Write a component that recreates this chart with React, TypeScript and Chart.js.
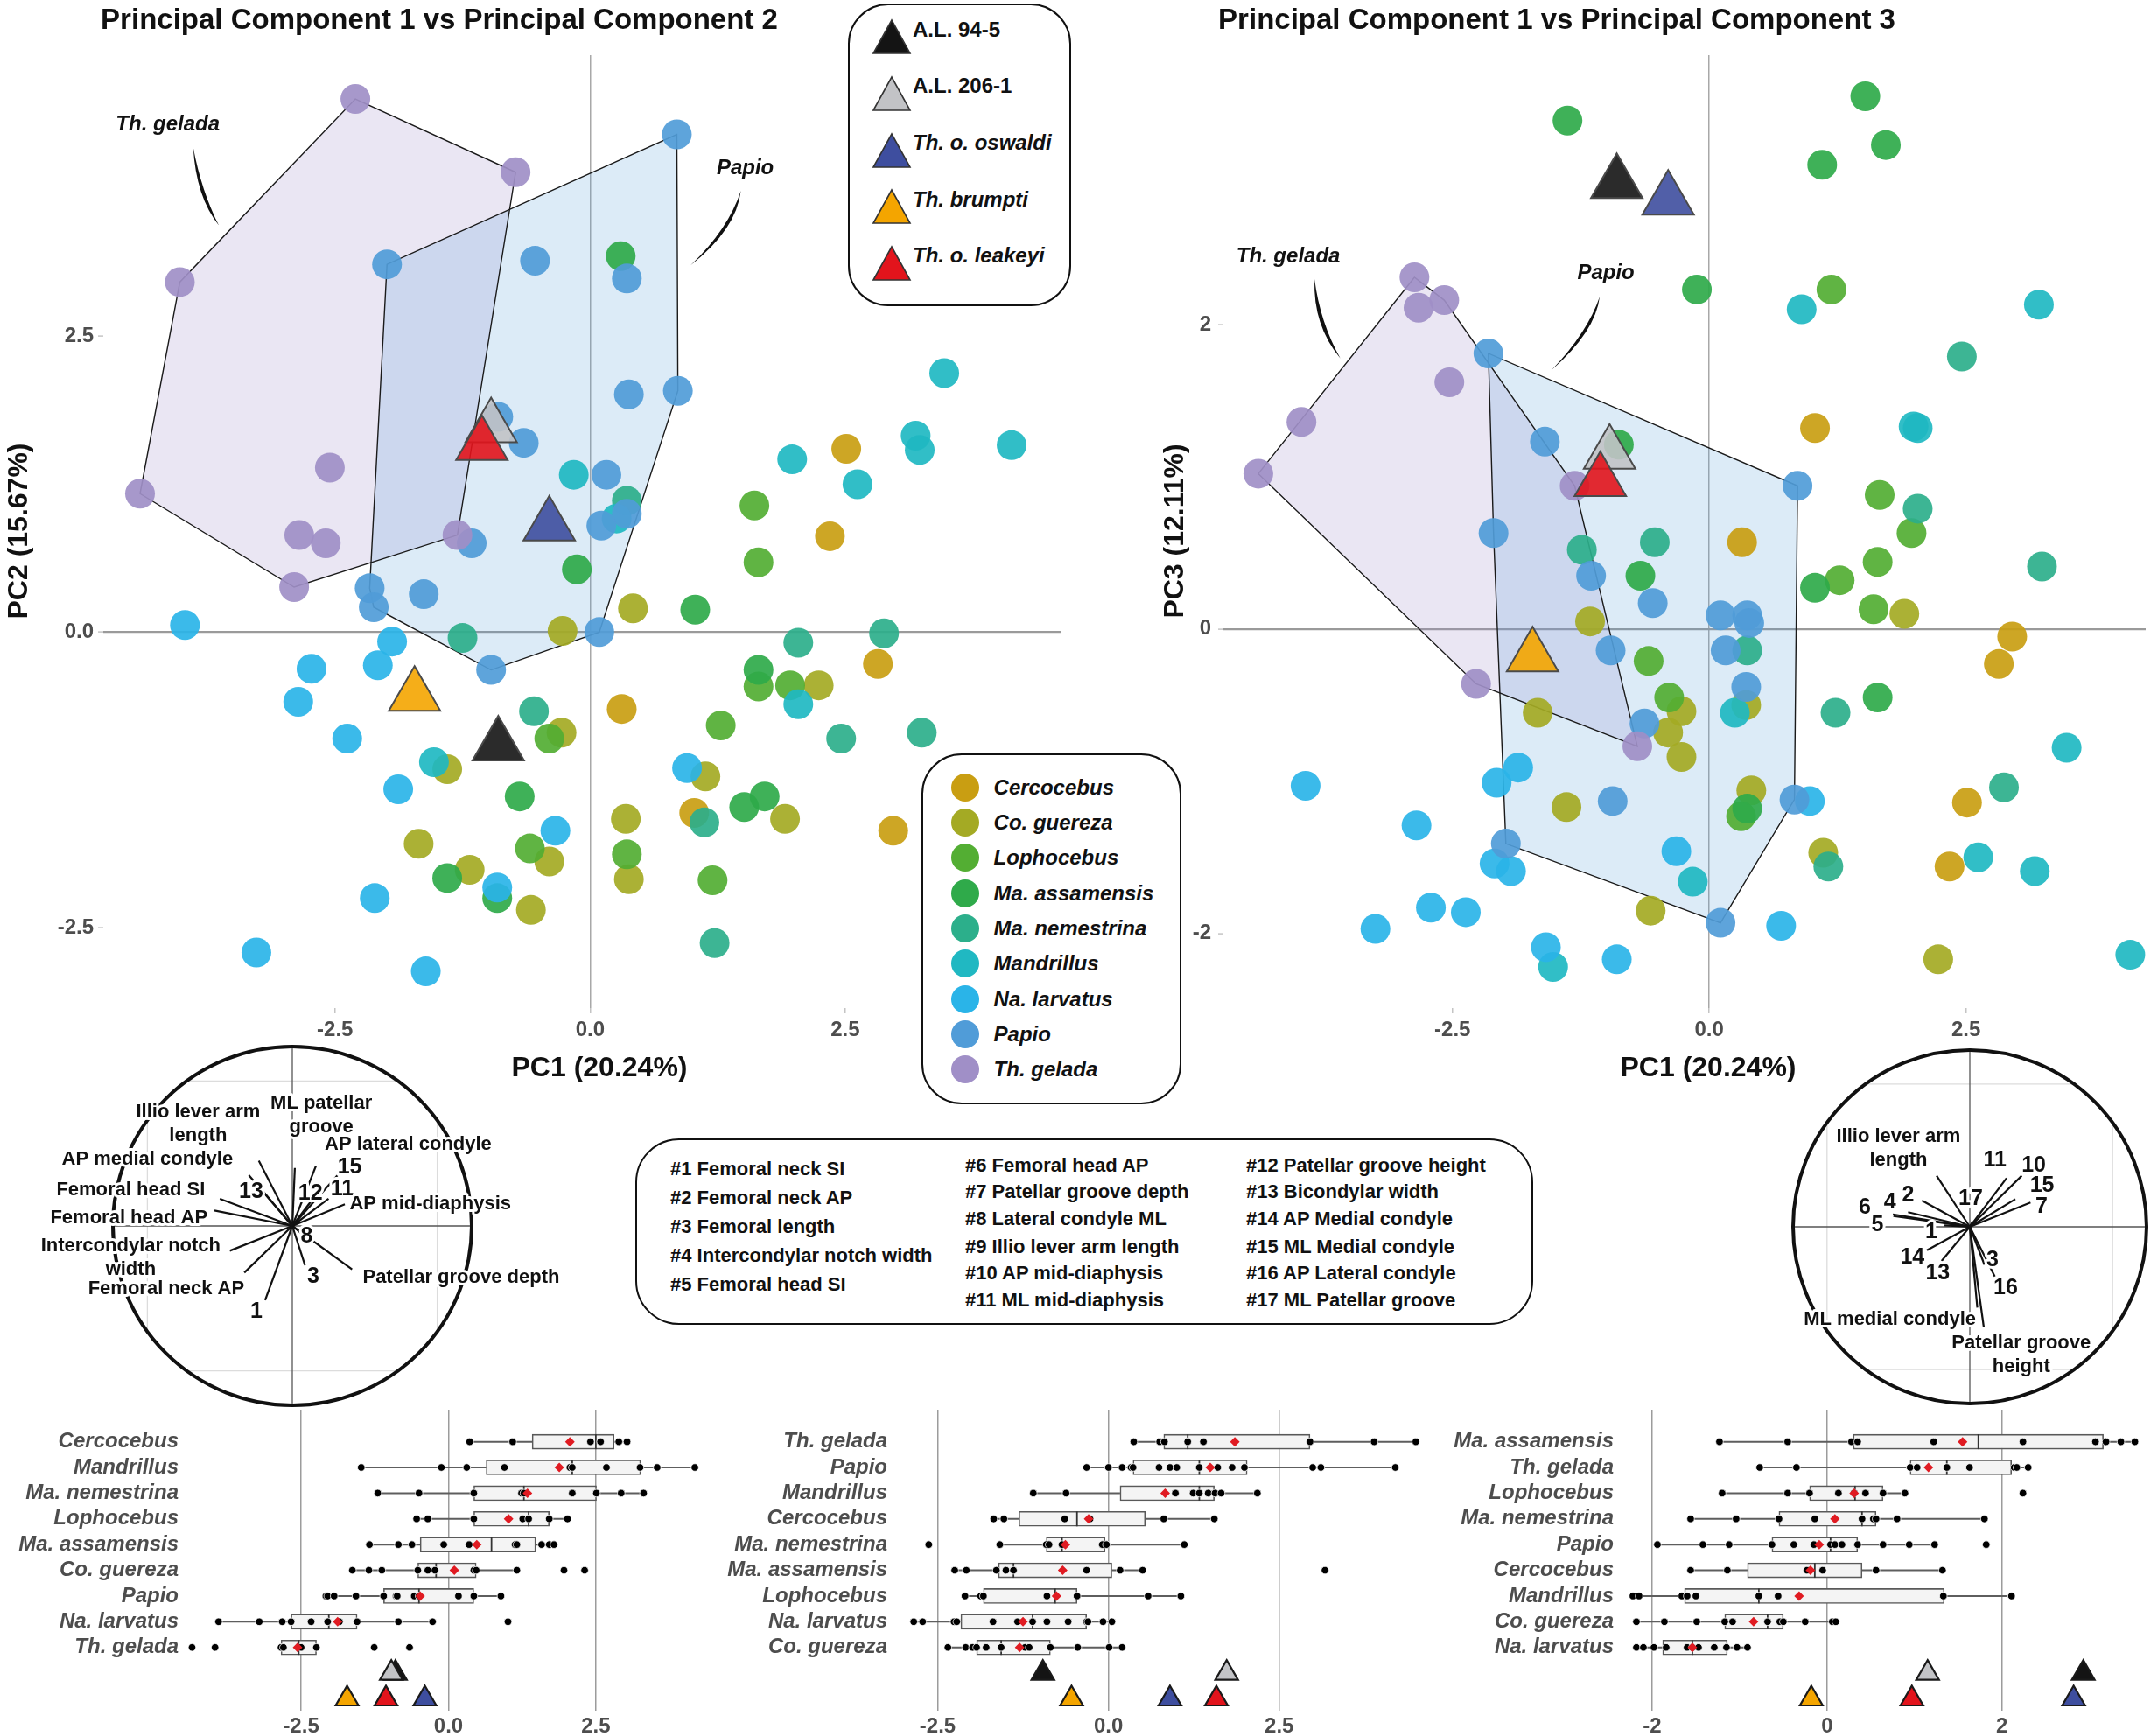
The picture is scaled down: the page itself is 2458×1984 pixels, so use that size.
import React, { useEffect, useRef } from "react";
import { Chart, registerables } from "chart.js";

Chart.register(...registerables);

const FONT = "'Liberation Sans', Arial, Helvetica, sans-serif";
type Pt = [number, number];

// ---------- categories ----------
const species = ["Cercocebus", "Co. guereza", "Lophocebus", "Ma. assamensis", "Ma. nemestrina", "Mandrillus", "Na. larvatus", "Papio", "Th. gelada"];
const speciesColors = ["#C99E12", "#A4AA24", "#53AE33", "#2FAA4A", "#2CAF8B", "#20B8C2", "#2AB4E8", "#509CD8", "#A08FC7"];

const fossils = ["A.L. 94-5", "A.L. 206-1", "Th. o. oswaldi", "Th. brumpti", "Th. o. leakeyi"];
const fossilColors = ["#141414", "#C2C3C6", "#3E4E9F", "#F4A500", "#E2141C"];
const fossilItalic = [false, false, true, true, true];
const fossilPC1 = [-0.9, -0.97, -0.4, -1.72, -1.06];
const fossilPC2 = [-0.96, 1.73, 0.9, -0.54, 1.58];
const fossilPC3 = [2.93, 1.15, 2.82, -0.18, 0.97];

// ---------- PC1 vs PC2 scores ----------
const pc12Cercocebus: Pt[] = [[2.51, 1.55], [2.35, 0.81], [0.31, -0.65], [2.82, -0.27], [1.02, -1.53], [2.97, -1.68]];
const pc12Guereza: Pt[] = [[-0.27, 0.01], [0.42, 0.2], [-0.28, -0.85], [-1.4, -1.16], [2.24, -0.45], [1.13, -1.22], [1.91, -1.58], [0.35, -1.58], [0.38, -2.09], [-1.68, -1.79], [-1.18, -2.01], [-0.4, -1.94], [-0.58, -2.35]];
const pc12Lophocebus: Pt[] = [[1.61, 1.07], [1.65, 0.59], [1.65, -0.46], [1.96, -0.45], [1.28, -0.79], [-0.4, -0.9], [-0.59, -1.83], [0.36, -1.88], [1.2, -2.1]];
const pc12Assamensis: Pt[] = [[0.3, 3.18], [-0.13, 0.53], [1.03, 0.19], [1.65, -0.32], [1.51, -1.48], [1.71, -1.39], [-1.4, -2.08], [-0.69, -1.39], [-0.91, -2.25]];
const pc12Nemestrina: Pt[] = [[0.36, 1.11], [2.04, -0.09], [2.88, -0.01], [3.25, -0.85], [2.46, -0.9], [-0.55, -0.67], [1.12, -1.61], [1.22, -2.63], [-1.25, -0.05]];
const pc12Mandrillus: Pt[] = [[3.47, 2.19], [3.19, 1.66], [3.23, 1.54], [4.13, 1.58], [1.98, 1.46], [2.62, 1.25], [-0.16, 1.33], [0.26, 0.96], [-1.53, -1.1], [2.04, -0.61]];
const pc12Larvatus: Pt[] = [[-3.97, 0.06], [-1.94, -0.08], [-2.73, -0.31], [-2.08, -0.28], [-2.86, -0.59], [-2.38, -0.9], [-1.88, -1.33], [-0.34, -1.68], [-0.91, -2.16], [-2.11, -2.25], [-3.27, -2.71], [-1.61, -2.87], [0.95, -1.15]];
const pc12Papio: Pt[] = [[0.85, 4.21], [-1.99, 3.11], [-0.54, 3.14], [0.36, 2.99], [0.38, 2.01], [0.86, 2.04], [-0.9, 1.82], [-0.65, 1.6], [0.16, 1.33], [-1.16, 0.75], [0.11, 0.9], [0.36, 1.0], [-2.16, 0.37], [-2.12, 0.21], [-1.63, 0.32], [0.09, 0.0], [-0.97, -0.32]];
const pc12Gelada: Pt[] = [[-2.3, 4.51], [-0.73, 3.89], [-4.02, 2.96], [-4.41, 1.17], [-2.55, 1.39], [-2.85, 0.82], [-2.59, 0.75], [-2.9, 0.38], [-1.3, 0.82]];

// ---------- PC1 vs PC3 scores ----------
const pc13Cercocebus: Pt[] = [[1.03, 1.32], [0.32, 0.57], [2.95, -0.05], [2.82, -0.23], [2.51, -1.14], [2.34, -1.56]];
const pc13Guereza: Pt[] = [[-1.16, 0.05], [1.9, 0.1], [-1.67, -0.55], [-0.27, -0.54], [-0.4, -0.68], [-0.27, -0.84], [0.36, -0.5], [-1.39, -1.17], [0.41, -1.06], [-0.57, -1.85], [1.11, -1.47], [2.23, -2.17]];
const pc13Lophocebus: Pt[] = [[1.19, 2.23], [1.66, 0.88], [1.97, 0.63], [1.64, 0.44], [1.27, 0.32], [1.6, 0.13], [-0.59, -0.21], [-0.39, -0.45], [0.31, -1.23]];
const pc13Assamensis: Pt[] = [[-0.12, 2.23], [-1.38, 3.34], [1.52, 3.5], [1.72, 3.18], [1.1, 3.05], [-0.88, 1.21], [1.03, 0.27], [-0.67, 0.35], [1.64, -0.45], [0.37, -1.18]];
const pc13Nemestrina: Pt[] = [[2.46, 1.79], [2.03, 0.79], [3.24, 0.41], [-0.53, 0.57], [-1.24, 0.52], [0.37, -0.14], [1.23, -0.55], [2.87, -1.04], [1.16, -1.56]];
const pc13Mandrillus: Pt[] = [[0.9, 2.1], [3.21, 2.13], [1.99, 1.33], [2.03, 1.32], [0.25, -0.55], [-0.16, -1.66], [-1.52, -2.22], [3.48, -0.78], [2.62, -1.5], [3.17, -1.59], [4.1, -2.14]];
const pc13Larvatus: Pt[] = [[-3.93, -1.03], [-1.86, -0.91], [-2.07, -1.01], [-2.85, -1.29], [-2.09, -1.54], [-1.93, -1.59], [-2.71, -1.83], [-2.37, -1.86], [-3.25, -1.97], [-1.59, -2.09], [-0.9, -2.17], [-0.32, -1.46], [0.98, -1.13], [0.7, -1.95]];
const pc13Papio: Pt[] = [[-2.15, 1.81], [-1.6, 1.23], [-2.1, 0.63], [0.86, 0.94], [-1.15, 0.35], [-0.55, 0.17], [0.11, 0.09], [0.37, 0.09], [0.39, 0.04], [0.16, -0.14], [0.36, -0.38], [-0.96, -0.14], [-0.63, -0.62], [-0.94, -1.13], [-1.98, -1.41], [0.83, -1.12], [0.11, -1.93]];
const pc13Gelada: Pt[] = [[-2.87, 2.31], [-2.58, 2.16], [-2.83, 2.11], [-2.53, 1.62], [-3.97, 1.36], [-4.39, 1.02], [-1.31, 0.94], [-2.27, -0.36], [-0.7, -0.77]];

const pc12Sets = [pc12Cercocebus, pc12Guereza, pc12Lophocebus, pc12Assamensis, pc12Nemestrina, pc12Mandrillus, pc12Larvatus, pc12Papio, pc12Gelada];
const pc13Sets = [pc13Cercocebus, pc13Guereza, pc13Lophocebus, pc13Assamensis, pc13Nemestrina, pc13Mandrillus, pc13Larvatus, pc13Papio, pc13Gelada];

// ---------- box plots: PC1 ----------
const pc1BoxOrder = ["Cercocebus", "Mandrillus", "Ma. nemestrina", "Lophocebus", "Ma. assamensis", "Co. guereza", "Papio", "Na. larvatus", "Th. gelada"];
const pc1BoxLow = [0.36, -1.48, -1.2, -0.54, -1.34, -1.63, -2.08, -3.9, -2.84];
const pc1BoxQ1 = [1.42, 0.64, 0.43, 0.43, -0.48, -0.52, -1.1, -2.67, -2.84];
const pc1BoxMedian = [2.5, 2.1, 1.28, 1.36, 0.73, -0.21, -0.5, -2.03, -2.54];
const pc1BoxQ3 = [2.81, 3.26, 2.51, 1.71, 1.48, 0.47, 0.43, -1.55, -2.24];
const pc1BoxHigh = [3.03, 4.18, 3.31, 2.02, 1.79, 1.16, 0.89, -0.27, -2.24];
const pc1BoxMean = [2.06, 1.88, 1.34, 1.02, 0.48, 0.1, -0.48, -1.88, -2.56];
const pc1BoxDots = [
  [0.36, 1.09, 2.41, 2.58, 2.89, 3.03],
  [-1.48, -0.12, 0.31, 0.95, 2.06, 2.1, 2.68, 3.25, 3.54, 4.18],
  [-1.2, -0.5, 0.43, 1.24, 1.28, 2.1, 2.51, 2.93, 3.31],
  [-0.54, -0.35, 0.43, 1.26, 1.36, 1.71, 2.02],
  [-1.34, -0.85, -0.62, -0.08, 0.35, 1.13, 1.16, 1.58, 1.71, 1.79],
  [-1.63, -1.35, -1.13, -0.52, -0.35, -0.23, 0.43, 0.47, 1.16, 1.96, 2.31],
  [-2.08, -2.05, -1.94, -1.57, -1.1, -0.89, -0.87, -0.58, -0.5, 0.17, 0.43, 0.89],
  [-3.9, -3.21, -2.82, -2.67, -2.33, -2.05, -1.85, -1.55, -0.85, -0.27, 1.01],
  [-4.35, -3.96, -2.84, -2.8, -2.5, -2.24, -1.26, -0.66],
];

// ---------- box plots: PC2 ----------
const pc2BoxOrder = ["Th. gelada", "Papio", "Mandrillus", "Cercocebus", "Ma. nemestrina", "Ma. assamensis", "Lophocebus", "Na. larvatus", "Co. guereza"];
const pc2BoxLow = [0.37, -0.32, -1.1, -1.68, -1.59, -2.25, -2.1, -2.85, -2.35];
const pc2BoxQ1 = [0.81, 0.36, 0.17, -1.31, -0.91, -1.61, -1.83, -2.16, -1.93];
const pc2BoxMedian = [1.16, 1.33, 1.33, -0.46, -0.68, -1.39, -0.78, -1.11, -1.57];
const pc2BoxQ3 = [2.95, 2.03, 1.55, 0.54, -0.05, 0.05, -0.46, -0.32, -0.85];
const pc2BoxHigh = [4.5, 4.2, 2.18, 1.55, 1.11, 0.5, 1.06, 0.05, 0.2];
const pc2BoxMean = [1.85, 1.49, 0.83, -0.29, -0.63, -0.67, -0.76, -1.25, -1.3];
const pc2BoxDots = [
  [0.37, 0.75, 0.82, 1.16, 1.39, 2.95, 3.89, 4.5],
  [-0.32, 0.0, 0.2, 0.33, 0.36, 0.74, 0.9, 1.0, 1.33, 1.6, 1.81, 1.99, 2.99, 3.11, 4.2],
  [-1.1, -0.62, 0.98, 1.24, 1.33, 1.46, 1.56, 1.65, 2.18],
  [-1.68, -1.53, -0.64, -0.27, 0.81, 1.55],
  [-2.63, -1.59, -0.91, -0.87, -0.68, -0.09, -0.03, 1.11],
  [-2.25, -2.08, -1.64, -1.5, -1.39, -0.32, 0.17, 0.5, 3.17],
  [-2.1, -1.87, -1.83, -0.9, -0.46, 0.58, 1.06],
  [-2.85, -2.72, -2.26, -2.22, -1.69, -1.33, -1.11, -0.9, -0.59, -0.32, -0.3, -0.08, 0.05],
  [-2.35, -2.09, -1.99, -1.93, -1.79, -1.57, -1.22, -1.16, -0.85, -0.45, 0.01, 0.2],
];

// ---------- box plots: PC3 ----------
const pc3BoxOrder = ["Ma. assamensis", "Th. gelada", "Lophocebus", "Ma. nemestrina", "Papio", "Cercocebus", "Mandrillus", "Co. guereza", "Na. larvatus"];
const pc3BoxLow = [-1.23, -0.77, -1.2, -1.56, -1.94, -1.56, -2.22, -2.18, -2.18];
const pc3BoxQ1 = [0.3, 0.95, -0.2, -0.55, -0.63, -0.91, -1.63, -1.17, -1.88];
const pc3BoxMedian = [1.73, 1.37, 0.32, 0.4, 0.04, -0.14, -0.78, -0.68, -1.54];
const pc3BoxQ3 = [3.16, 2.11, 0.64, 0.56, 0.35, 0.4, 1.34, -0.5, -1.14];
const pc3BoxHigh = [3.52, 2.3, 0.89, 1.8, 1.23, 1.32, 2.11, 0.1, -0.91];
const pc3BoxMean = [1.55, 1.16, 0.31, 0.09, -0.09, -0.19, -0.32, -0.84, -1.54];
const pc3BoxDots = [
  [-1.23, -0.45, 0.28, 0.35, 1.22, 2.24, 3.07, 3.19, 3.36, 3.52],
  [-0.77, -0.35, 0.95, 1.03, 1.37, 1.63, 2.14, 2.17, 2.3],
  [-1.2, -0.45, -0.2, 0.13, 0.31, 0.44, 0.64, 0.89, 2.24],
  [-1.56, -1.04, -0.55, -0.14, 0.4, 0.53, 0.56, 0.8, 1.8],
  [-1.94, -1.42, -1.12, -0.63, -0.38, -0.15, 0.04, 0.09, 0.17, 0.35, 0.64, 0.94, 1.23, 1.82],
  [-1.56, -1.14, -0.23, -0.05, 0.56, 1.32],
  [-2.22, -2.15, -1.66, -1.6, -1.5, -0.78, -0.56, 1.33, 2.11],
  [-2.18, -1.86, -1.49, -1.17, -1.08, -0.68, -0.54, -0.5, -0.25, 0.06, 0.1],
  [-2.18, -2.1, -1.98, -1.84, -1.6, -1.54, -1.47, -1.29, -1.15, -1.03, -0.91],
];

// ---------- loadings: PC1 vs PC2 ----------
const loadLeftX = [-0.185, -0.24, -0.16, 0.014, 0.13, 0.25, 0.11, 0.2, 0.29, -0.4, -0.43, -0.345, -0.265, -0.15, 0.07, 0.05, 0.33];
const loadLeftY = [0.36, 0.28, 0.19, 0.32, 0.33, 0.28, 0.145, 0.15, 0.12, 0.15, 0.085, -0.137, -0.258, -0.41, -0.217, -0.04, -0.24];
const loadLeftLabels = [["Illio lever arm", "length"], ["AP medial condyle"], ["13"], ["ML patellar", "groove"], ["AP lateral condyle"], ["15"], ["12"], ["11"], ["AP mid-diaphysis"], ["Femoral head SI"], ["Femoral head AP"], ["Intercondylar notch", "width"], ["Femoral neck AP"], ["1"], ["3"], ["8"], ["Patellar groove depth"]];
const loadLeftLabelX = [-0.52, -0.8, -0.227, 0.16, 0.64, 0.317, 0.1, 0.275, 0.762, -0.892, -0.902, -0.892, -0.696, -0.198, 0.116, 0.08, 0.932];
const loadLeftLabelY = [0.565, 0.367, 0.188, 0.61, 0.448, 0.322, 0.177, 0.201, 0.121, 0.198, 0.044, -0.175, -0.346, -0.472, -0.279, -0.06, -0.285];

// ---------- loadings: PC1 vs PC3 ----------
const loadRightX = [-0.186, -0.268, -0.346, -0.431, -0.428, -0.142, -0.24, -0.158, 0.016, 0.206, 0.291, 0.255, 0.34, 0.082, 0.14, 0.042, 0.078];
const loadRightY = [0.286, 0.147, 0.082, 0.07, 0.06, 0.008, -0.131, -0.191, 0.03, 0.273, 0.286, 0.155, 0.136, -0.212, -0.278, -0.453, -0.56];
const loadRightLabels = [["Illio lever arm", "length"], ["2"], ["4"], ["6"], ["5"], ["1"], ["14"], ["13"], ["17"], ["11"], ["10"], ["15"], ["7"], ["3"], ["16"], ["ML medial condyle"], ["Patellar groove", "height"]];
const loadRightLabelX = [-0.4, -0.346, -0.448, -0.588, -0.518, -0.216, -0.322, -0.18, 0.005, 0.141, 0.358, 0.405, 0.402, 0.127, 0.201, -0.448, 0.288];
const loadRightLabelY = [0.437, 0.176, 0.139, 0.109, 0.008, -0.028, -0.172, -0.261, 0.158, 0.371, 0.343, 0.229, 0.114, -0.188, -0.343, -0.518, -0.719];

// ---------- variable key ----------
const varCol1 = ["#1 Femoral neck SI", "#2 Femoral neck AP", "#3 Femoral length", "#4 Intercondylar notch width", "#5 Femoral head SI"];
const varCol2 = ["#6 Femoral head AP", "#7 Patellar groove depth", "#8 Lateral condyle ML", "#9 Illio lever arm length", "#10 AP mid-diaphysis", "#11 ML mid-diaphysis"];
const varCol3 = ["#12 Patellar groove height", "#13 Bicondylar width", "#14 AP Medial condyle", "#15 ML Medial condyle", "#16 AP Lateral condyle", "#17 ML Patellar groove"];

// ---------- helpers ----------
function convexHull(points: Pt[]): Pt[] {
  const p = [...points].sort((a, b) => a[0] - b[0] || a[1] - b[1]);
  const cross = (o: Pt, a: Pt, b: Pt) => (a[0] - o[0]) * (b[1] - o[1]) - (a[1] - o[1]) * (b[0] - o[0]);
  const lower: Pt[] = [];
  for (const q of p) {
    while (lower.length >= 2 && cross(lower[lower.length - 2], lower[lower.length - 1], q) <= 0) lower.pop();
    lower.push(q);
  }
  const upper: Pt[] = [];
  for (let i = p.length - 1; i >= 0; i--) {
    const q = p[i];
    while (upper.length >= 2 && cross(upper[upper.length - 2], upper[upper.length - 1], q) <= 0) upper.pop();
    upper.push(q);
  }
  upper.pop();
  lower.pop();
  return lower.concat(upper);
}

// pin the chart area: fixed axis thickness, no extra label padding
const pinAxis = (size: number, horizontal: boolean) => (s: any) => {
  if (horizontal) s.height = size;
  else s.width = size;
  s.paddingLeft = 0;
  s.paddingRight = 0;
  s.paddingTop = 0;
  s.paddingBottom = 0;
};

type TextItem = { t: string; x: number; y: number; size: number; rot?: number; italic?: boolean };
function textPlugin(items: TextItem[]) {
  return {
    id: "texts",
    afterDraw(chart: any) {
      const ctx = chart.ctx;
      items.forEach((it) => {
        ctx.save();
        ctx.font = `${it.italic ? "italic " : ""}bold ${it.size}px ${FONT}`;
        ctx.fillStyle = "#111";
        ctx.textAlign = "center";
        ctx.textBaseline = "middle";
        ctx.translate(it.x, it.y);
        if (it.rot) ctx.rotate(it.rot);
        ctx.fillText(it.t, 0, 0);
        ctx.restore();
      });
    },
  };
}

type Note = { text: string; tx: number; ty: number; curve: Pt[] };
function scatterDecor(hullSets: { pts: Pt[]; fill: string }[], notes: Note[]) {
  return {
    id: "scatterDecor",
    beforeDatasetsDraw(chart: any) {
      const { ctx } = chart;
      const xs = chart.scales.x;
      const ys = chart.scales.y;
      const P = (p: Pt): Pt => [xs.getPixelForValue(p[0]), ys.getPixelForValue(p[1])];
      const hulls = hullSets.map((h) => convexHull(h.pts).map(P));
      ctx.save();
      hulls.forEach((h, i) => {
        ctx.beginPath();
        h.forEach(([x, y], k) => (k ? ctx.lineTo(x, y) : ctx.moveTo(x, y)));
        ctx.closePath();
        ctx.fillStyle = hullSets[i].fill;
        ctx.fill();
      });
      ctx.strokeStyle = "#1a1a1a";
      ctx.lineWidth = 1.4;
      hulls.forEach((h) => {
        ctx.beginPath();
        h.forEach(([x, y], k) => (k ? ctx.lineTo(x, y) : ctx.moveTo(x, y)));
        ctx.closePath();
        ctx.stroke();
      });
      notes.forEach((n) => {
        ctx.font = `italic bold 24px ${FONT}`;
        ctx.fillStyle = "#111";
        ctx.textAlign = "center";
        ctx.textBaseline = "middle";
        ctx.fillText(n.text, xs.getPixelForValue(n.tx), ys.getPixelForValue(n.ty));
        const [s, c, e] = n.curve.map(P);
        const mx = (s[0] + e[0]) / 2;
        const my = (s[1] + e[1]) / 2;
        let dx = mx - c[0];
        let dy = my - c[1];
        const L = Math.hypot(dx, dy) || 1;
        dx /= L;
        dy /= L;
        ctx.beginPath();
        ctx.moveTo(s[0], s[1]);
        ctx.quadraticCurveTo(c[0], c[1], e[0], e[1]);
        ctx.quadraticCurveTo(c[0] + dx * 9, c[1] + dy * 9, s[0], s[1]);
        ctx.closePath();
        ctx.fill();
      });
      ctx.restore();
    },
  };
}

function scatterAxis(min: number, max: number, ticks: number[], fmt: (v: number) => string, gridW: number, gridC: string, fit: (s: any) => void, pad: number) {
  return {
    type: "linear",
    min,
    max,
    bounds: "data",
    offset: false,
    afterBuildTicks: (s: any) => {
      s.ticks = ticks.map((v) => ({ value: v }));
    },
    afterFit: fit,
    ticks: { callback: (v: any) => fmt(Number(v)), font: { family: FONT, size: 24, weight: "bold" }, color: "#4D4D4D", padding: pad, autoSkip: false, maxRotation: 0 },
    grid: {
      offset: false,
      color: (c: any) => (c.tick && c.tick.value === 0 ? gridC : "rgba(0,0,0,0)"),
      lineWidth: gridW,
      drawTicks: true,
      tickLength: 6,
      tickColor: "#c4c4c4",
      tickWidth: 1.5,
    },
    border: { display: false },
  };
}

function makeScatter(cfg: {
  sets: Pt[][];
  fy: number[];
  xMin: number; xMax: number; yMin: number; yMax: number;
  yTicks: number[]; yFmt: (v: number) => string; yAxisW: number; padRight: number; yPad: number;
  texts: TextItem[]; notes: Note[];
}) {
  const datasets: any[] = cfg.sets.map((pts, i) => ({
    label: species[i],
    data: pts.map((p) => ({ x: p[0], y: p[1] })),
    backgroundColor: speciesColors[i] + "EB",
    borderWidth: 0,
    pointRadius: 17,
    pointHoverRadius: 17,
    order: 100 - i,
    clip: false,
  }));
  fossils.forEach((f, j) =>
    datasets.push({
      label: f,
      data: [{ x: fossilPC1[j], y: cfg.fy[j] }],
      pointStyle: "triangle",
      pointRadius: 34,
      pointHoverRadius: 34,
      backgroundColor: fossilColors[j] + "E6",
      borderColor: "#4a4a4a",
      borderWidth: 2,
      order: 50 - j,
      clip: false,
    })
  );
  const gi = species.indexOf("Th. gelada");
  const pi = species.indexOf("Papio");
  return {
    type: "scatter",
    data: { datasets },
    options: {
      animation: false,
      responsive: false,
      devicePixelRatio: 1,
      events: [],
      layout: { autoPadding: false, padding: { left: 0, top: 63, right: cfg.padRight, bottom: 0 } },
      plugins: { legend: { display: false }, tooltip: { enabled: false } },
      scales: {
        x: scatterAxis(cfg.xMin, cfg.xMax, [-2.5, 0, 2.5], (v) => v.toFixed(1), 1.5, "#a8a8a8", pinAxis(98, true), 5),
        y: scatterAxis(cfg.yMin, cfg.yMax, cfg.yTicks, cfg.yFmt, 2.2, "#9a9a9a", pinAxis(cfg.yAxisW, false), cfg.yPad),
      },
    },
    plugins: [
      scatterDecor(
        [
          { pts: cfg.sets[gi], fill: "rgba(160,143,199,0.22)" },
          { pts: cfg.sets[pi], fill: "rgba(80,156,216,0.2)" },
        ],
        cfg.notes
      ),
      textPlugin(cfg.texts),
    ],
  };
}

const makeLeftScatter = () =>
  makeScatter({
    sets: pc12Sets,
    fy: fossilPC2,
    xMin: -4.77, xMax: 4.61, yMin: -3.18, yMax: 4.88,
    yTicks: [-2.5, 0, 2.5], yFmt: (v) => v.toFixed(1), yAxisW: 118, padRight: 28, yPad: 5,
    texts: [
      { t: "Principal Component 1 vs Principal Component 2", x: 502, y: 24, size: 33 },
      { t: "PC1 (20.24%)", x: 685, y: 1221, size: 32 },
      { t: "PC2 (15.67%)", x: 22, y: 607, size: 32, rot: -Math.PI / 2 },
    ],
    notes: [
      { text: "Th. gelada", tx: -4.138, ty: 4.295, curve: [[-3.889, 4.099], [-3.861, 3.681], [-3.638, 3.44]] },
      { text: "Papio", tx: 1.52, ty: 3.925, curve: [[1.477, 3.733], [1.433, 3.407], [0.987, 3.104]] },
    ],
  });

const makeRightScatter = () =>
  makeScatter({
    sets: pc13Sets,
    fy: fossilPC3,
    xMin: -4.73, xMax: 4.25, yMin: -2.49, yMax: 3.77,
    yTicks: [-2, 0, 2], yFmt: (v) => v.toFixed(0), yAxisW: 148, padRight: 6, yPad: 8,
    texts: [
      { t: "Principal Component 1 vs Principal Component 3", x: 529, y: 24, size: 33 },
      { t: "PC1 (20.24%)", x: 702, y: 1221, size: 32 },
      { t: "PC3 (12.11%)", x: 93, y: 607, size: 32, rot: -Math.PI / 2 },
    ],
    notes: [
      { text: "Th. gelada", tx: -4.099, ty: 2.448, curve: [[-3.843, 2.299], [-3.859, 1.994], [-3.591, 1.777]] },
      { text: "Papio", tx: -1.006, ty: 2.334, curve: [[-1.066, 2.184], [-1.107, 1.954], [-1.533, 1.702]] },
    ],
  });

// ---------- loading circles ----------
function loadingDecor(lines: string[][], lx: number[], ly: number[]) {
  return {
    id: "loadingDecor",
    beforeDatasetsDraw(chart: any) {
      const { ctx } = chart;
      const xs = chart.scales.x;
      const ys = chart.scales.y;
      const X = (v: number) => xs.getPixelForValue(v);
      const Y = (v: number) => ys.getPixelForValue(v);
      const r = X(1) - X(0) - 2;
      ctx.save();
      ctx.beginPath();
      ctx.arc(X(0), Y(0), r, 0, Math.PI * 2);
      ctx.clip();
      ctx.strokeStyle = "#dcdcdc";
      ctx.lineWidth = 1.3;
      [-0.8, 0.8].forEach((v) => {
        ctx.beginPath();
        ctx.moveTo(X(v), Y(-1));
        ctx.lineTo(X(v), Y(1));
        ctx.stroke();
        ctx.beginPath();
        ctx.moveTo(X(-1), Y(v));
        ctx.lineTo(X(1), Y(v));
        ctx.stroke();
      });
      ctx.strokeStyle = "#555";
      ctx.lineWidth = 1.3;
      ctx.beginPath();
      ctx.moveTo(X(-1), Y(0));
      ctx.lineTo(X(1), Y(0));
      ctx.moveTo(X(0), Y(-1));
      ctx.lineTo(X(0), Y(1));
      ctx.stroke();
      ctx.restore();
      ctx.save();
      ctx.strokeStyle = "#111";
      ctx.lineWidth = 4;
      ctx.beginPath();
      ctx.arc(X(0), Y(0), r, 0, Math.PI * 2);
      ctx.stroke();
      ctx.restore();
    },
    afterDatasetsDraw(chart: any) {
      const { ctx } = chart;
      const xs = chart.scales.x;
      const ys = chart.scales.y;
      ctx.save();
      ctx.textAlign = "center";
      ctx.textBaseline = "middle";
      ctx.lineJoin = "round";
      lines.forEach((ls, i) => {
        const numeric = /^\d+$/.test(ls[0]);
        const size = numeric ? 25 : 22;
        ctx.font = `bold ${size}px ${FONT}`;
        const cx = xs.getPixelForValue(lx[i]);
        const cy = ys.getPixelForValue(ly[i]);
        const lh = 27;
        ls.forEach((t, k) => {
          const y = cy + (k - (ls.length - 1) / 2) * lh;
          ctx.strokeStyle = "#fff";
          ctx.lineWidth = 6;
          ctx.strokeText(t, cx, y);
          ctx.fillStyle = "#111";
          ctx.fillText(t, cx, y);
        });
      });
      ctx.restore();
    },
  };
}

function makeLoading(vx: number[], vy: number[], lines: string[][], lx: number[], ly: number[], pad: any) {
  return () => ({
    type: "scatter",
    data: {
      datasets: vx.map((x, i) => ({
        data: [{ x: 0, y: 0 }, { x, y: vy[i] }],
        showLine: true,
        borderColor: "#111",
        borderWidth: 2.2,
        pointRadius: 0,
        clip: false,
      })),
    },
    options: {
      animation: false,
      responsive: false,
      devicePixelRatio: 1,
      events: [],
      layout: { autoPadding: false, padding: pad },
      plugins: { legend: { display: false }, tooltip: { enabled: false } },
      scales: {
        x: { type: "linear", display: false, min: -1, max: 1 },
        y: { type: "linear", display: false, min: -1, max: 1 },
      },
    },
    plugins: [loadingDecor(lines, lx, ly)],
  });
}

const makeLeftLoading = makeLoading(loadLeftX, loadLeftY, loadLeftLabels, loadLeftLabelX, loadLeftLabelY, { left: 127, right: 179, top: 14, bottom: 12 });
const makeRightLoading = makeLoading(loadRightX, loadRightY, loadRightLabels, loadRightLabelX, loadRightLabelY, { left: 147, right: 3, top: 18, bottom: 14 });

// ---------- box plots ----------
function boxDecor(low: number[], q1: number[], med: number[], q3: number[], high: number[]) {
  return {
    id: "boxDecor",
    beforeDatasetsDraw(chart: any) {
      const { ctx } = chart;
      const xs = chart.scales.x;
      const ys = chart.scales.y;
      ctx.save();
      ctx.strokeStyle = "#5e5e5e";
      ctx.lineWidth = 2;
      low.forEach((lo, i) => {
        const y = ys.getPixelForValue(i);
        ctx.beginPath();
        ctx.moveTo(xs.getPixelForValue(lo), y);
        ctx.lineTo(xs.getPixelForValue(q1[i]), y);
        ctx.moveTo(xs.getPixelForValue(q3[i]), y);
        ctx.lineTo(xs.getPixelForValue(high[i]), y);
        ctx.stroke();
      });
      ctx.restore();
    },
    afterDatasetDraw(chart: any, args: any) {
      if (args.index !== 0) return;
      const { ctx } = chart;
      const xs = chart.scales.x;
      const ys = chart.scales.y;
      ctx.save();
      ctx.strokeStyle = "#333";
      ctx.lineWidth = 1.8;
      med.forEach((m, i) => {
        const y = ys.getPixelForValue(i);
        const x = xs.getPixelForValue(m);
        ctx.beginPath();
        ctx.moveTo(x, y - 8.5);
        ctx.lineTo(x, y + 8.5);
        ctx.stroke();
      });
      ctx.restore();
    },
  };
}

function makeBox(p: {
  order: string[]; low: number[]; q1: number[]; med: number[]; q3: number[]; high: number[]; mean: number[]; dots: number[][];
  fx: number[]; xMin: number; xMax: number; ticks: number[]; fmt: (v: number) => string; axisW: number; padRight: number;
}) {
  return () => {
    const datasets: any[] = [
      {
        type: "bar",
        indexAxis: "y",
        data: p.q1.map((a, i) => ({ x: [a, p.q3[i]], y: i })),
        backgroundColor: "#F4F4F4",
        borderColor: "#595959",
        borderWidth: 1.6,
        borderSkipped: false,
        barThickness: 17,
        order: 10,
      },
      {
        type: "scatter",
        data: p.dots.flatMap((arr, i) => arr.map((v) => ({ x: v, y: i }))),
        backgroundColor: "#000",
        borderColor: "#fff",
        borderWidth: 0.8,
        pointRadius: 4.3,
        pointHoverRadius: 4.3,
        order: 5,
        clip: false,
      },
      {
        type: "scatter",
        data: p.mean.map((v, i) => ({ x: v, y: i })),
        pointStyle: "rectRot",
        backgroundColor: "#E01B22",
        borderWidth: 0,
        pointRadius: 5.5,
        pointHoverRadius: 5.5,
        order: 4,
        clip: false,
      },
    ];
    fossils.forEach((f, j) =>
      datasets.push({
        type: "scatter",
        label: f,
        data: [{ x: p.fx[j], y: j < 2 ? 9 : 10 }],
        pointStyle: "triangle",
        backgroundColor: fossilColors[j],
        borderColor: "#1a1a1a",
        borderWidth: 2.2,
        pointRadius: 15,
        pointHoverRadius: 15,
        order: 3 - j * 0.1,
        clip: false,
      })
    );
    return {
      type: "scatter",
      data: { datasets },
      options: {
        animation: false,
        responsive: false,
        devicePixelRatio: 1,
        events: [],
        layout: { autoPadding: false, padding: { left: 0, top: 20.9, right: p.padRight, bottom: 0 } },
        plugins: { legend: { display: false }, tooltip: { enabled: false } },
        scales: {
          x: {
            type: "linear",
            min: p.xMin,
            max: p.xMax,
            bounds: "data",
            offset: false,
            afterBuildTicks: (s: any) => {
              s.ticks = p.ticks.map((v) => ({ value: v }));
            },
            afterFit: pinAxis(29.3, true),
            ticks: { callback: (v: any) => p.fmt(Number(v)), font: { family: FONT, size: 24, weight: "bold" }, color: "#4D4D4D", padding: 4, autoSkip: false, maxRotation: 0 },
            grid: { offset: false, color: "#9c9c9c", lineWidth: 1.5, drawTicks: false },
            border: { display: false },
          },
          y: {
            type: "linear",
            min: -1.25,
            max: 10.45,
            reverse: true,
            bounds: "data",
            offset: false,
            afterBuildTicks: (s: any) => {
              s.ticks = p.order.map((_, i) => ({ value: i }));
            },
            afterFit: pinAxis(p.axisW, false),
            ticks: { callback: (v: any) => p.order[Number(v)] ?? "", font: { family: FONT, size: 24, weight: "bold", style: "italic" }, color: "#4D4D4D", padding: 6, autoSkip: false },
            grid: { display: false, drawTicks: false, offset: false },
            border: { display: false },
          },
        },
      },
      plugins: [boxDecor(p.low, p.q1, p.med, p.q3, p.high)],
    };
  };
}

const makeBox1 = makeBox({
  order: pc1BoxOrder, low: pc1BoxLow, q1: pc1BoxQ1, med: pc1BoxMedian, q3: pc1BoxQ3, high: pc1BoxHigh, mean: pc1BoxMean, dots: pc1BoxDots,
  fx: fossilPC1, xMin: -4.49, xMax: 4.35, ticks: [-2.5, 0, 2.5], fmt: (v) => v.toFixed(1), axisW: 210, padRight: 14.5,
});
const makeBox2 = makeBox({
  order: pc2BoxOrder, low: pc2BoxLow, q1: pc2BoxQ1, med: pc2BoxMedian, q3: pc2BoxQ3, high: pc2BoxHigh, mean: pc2BoxMean, dots: pc2BoxDots,
  fx: fossilPC2, xMin: -3.16, xMax: 4.7, ticks: [-2.5, 0, 2.5], fmt: (v) => v.toFixed(1), axisW: 200, padRight: 16.5,
});
const makeBox3 = makeBox({
  order: pc3BoxOrder, low: pc3BoxLow, q1: pc3BoxQ1, med: pc3BoxMedian, q3: pc3BoxQ3, high: pc3BoxHigh, mean: pc3BoxMean, dots: pc3BoxDots,
  fx: fossilPC3, xMin: -2.38, xMax: 3.65, ticks: [-2, 0, 2], fmt: (v) => v.toFixed(0), axisW: 210, padRight: 5.4,
});

// ---------- React ----------
function ChartCanvas({ left, top, width, height, make }: { left: number; top: number; width: number; height: number; make: () => any }) {
  const ref = useRef<HTMLCanvasElement>(null);
  useEffect(() => {
    const chart = new Chart(ref.current as HTMLCanvasElement, make());
    return () => chart.destroy();
  }, [make]);
  return <canvas ref={ref} width={width} height={height} style={{ position: "absolute", left, top, width, height }} />;
}

const abs = (left: number, top: number): React.CSSProperties => ({ position: "absolute", left, top });

function FossilLegend() {
  const rows = [42.1, 106.8, 171.5, 236.2, 300.9];
  return (
    <>
      <div style={{ ...abs(969, 4), width: 255, height: 346, border: "2.5px solid #111", borderRadius: 46, boxSizing: "border-box", background: "#fff" }} />
      {fossils.map((f, j) => (
        <React.Fragment key={f}>
          <svg style={abs(996, rows[j] - 21)} width={46} height={42}>
            <polygon points="23,2 44,40 2,40" fill={fossilColors[j]} stroke="#333" strokeWidth={1.6} />
          </svg>
          <div style={{ ...abs(1043, rows[j] - 8.5 - 15), height: 30, lineHeight: "30px", fontFamily: FONT, fontWeight: "bold", fontStyle: fossilItalic[j] ? "italic" : "normal", fontSize: 24, color: "#111", whiteSpace: "nowrap" }}>{f}</div>
        </React.Fragment>
      ))}
    </>
  );
}

function SpeciesLegend() {
  return (
    <>
      <div style={{ ...abs(1053, 861), width: 297, height: 401, border: "2.5px solid #111", borderRadius: 46, boxSizing: "border-box", background: "#fff" }} />
      {species.map((s, i) => {
        const row = 899.8 + 40.3 * i;
        return (
          <React.Fragment key={s}>
            <div style={{ ...abs(1102.6 - 16, row - 16), width: 32, height: 32, borderRadius: "50%", background: speciesColors[i] }} />
            <div style={{ ...abs(1135.6, row - 15), height: 30, lineHeight: "30px", fontFamily: FONT, fontWeight: "bold", fontStyle: "italic", fontSize: 24, color: "#111", whiteSpace: "nowrap" }}>{s}</div>
          </React.Fragment>
        );
      })}
    </>
  );
}

function VariableBox() {
  const col1Rows = [1336, 1369, 1401.7, 1435, 1468];
  const colRows = [1331.7, 1361.7, 1393.3, 1425, 1455, 1486];
  const txt = (t: string, x: number, y: number) => (
    <div key={t} style={{ ...abs(x, y - 15), height: 30, lineHeight: "30px", fontFamily: FONT, fontWeight: "bold", fontSize: 22, color: "#111", whiteSpace: "nowrap" }}>{t}</div>
  );
  return (
    <>
      <div style={{ ...abs(726, 1301), width: 1026, height: 213, border: "2.5px solid #111", borderRadius: 50, boxSizing: "border-box", background: "#fff" }} />
      {varCol1.map((t, i) => txt(t, 766, col1Rows[i]))}
      {varCol2.map((t, i) => txt(t, 1103, colRows[i]))}
      {varCol3.map((t, i) => txt(t, 1424, colRows[i]))}
    </>
  );
}

export default function App() {
  return (
    <div style={{ position: "absolute", left: 0, top: 0, width: 2458, height: 1984, background: "#fff", overflow: "hidden" }}>
      <ChartCanvas left={0} top={0} width={1240} height={1250} make={makeLeftScatter} />
      <ChartCanvas left={1250} top={0} width={1208} height={1250} make={makeRightScatter} />
      <ChartCanvas left={0} top={1590} width={820} height={394} make={makeBox1} />
      <ChartCanvas left={820} top={1590} width={830} height={394} make={makeBox2} />
      <ChartCanvas left={1640} top={1590} width={818} height={394} make={makeBox3} />
      <ChartCanvas left={0} top={1180} width={720} height={440} make={makeLeftLoading} />
      <ChartCanvas left={1900} top={1180} width={558} height={440} make={makeRightLoading} />
      <FossilLegend />
      <SpeciesLegend />
      <VariableBox />
    </div>
  );
}
